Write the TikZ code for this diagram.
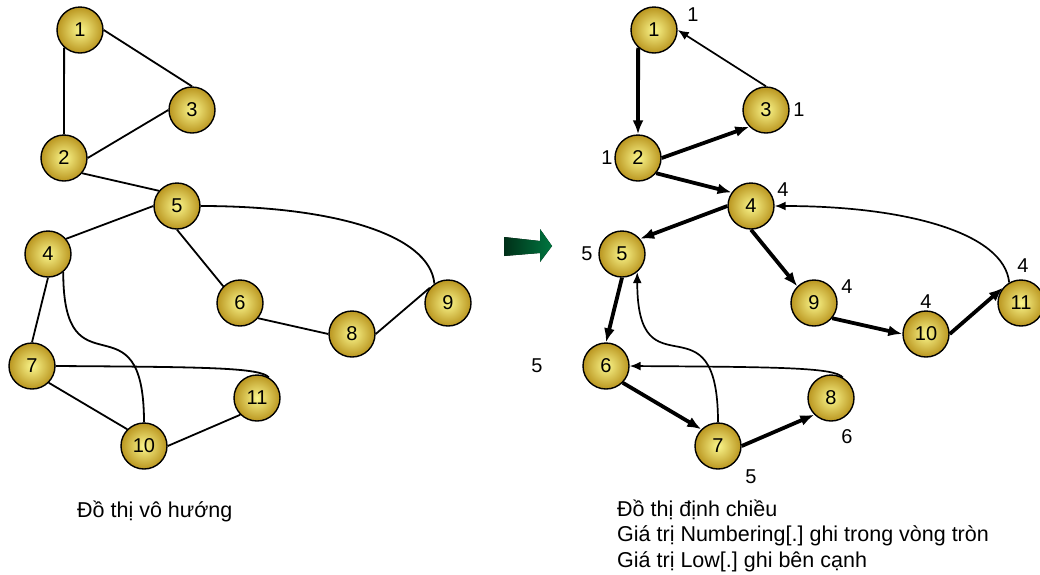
\documentclass[tikz,border=0pt]{standalone}
\usepackage{fontspec}
\setmainfont{Liberation Sans}
\usetikzlibrary{arrows.meta}
\frenchspacing

\definecolor{goldlight}{RGB}{250,246,140}
\definecolor{golddark}{RGB}{186,150,32}
\definecolor{arrowgreen}{RGB}{0,118,64}
\definecolor{arrowdark}{RGB}{0,48,24}

\begin{document}
\begin{tikzpicture}[x=1pt, y=1pt,
  every node/.style={font=\fontsize{20}{24}\selectfont},
  vertex/.style={circle, draw, line width=1.4pt, minimum size=46pt, inner sep=0pt, inner color=goldlight, outer color=golddark},
  low/.style={inner sep=0pt},
  caption/.style={inner sep=0pt, anchor=base west, align=left, font=\fontsize{21.5}{25.5}\selectfont},
  edge/.style={line width=1.8pt},
  tree/.style={line width=3.8pt, -{Latex[length=14pt,width=11pt]}},
  back/.style={line width=1.7pt, -{Latex[length=11pt,width=9pt]}}]
  \useasboundingbox (0,0) rectangle (1040,-574);

  % undirected graph
  \node[vertex] (a1) at (80,-30) {1};
  \node[vertex] (a3) at (192,-110) {3};
  \node[vertex] (a2) at (64,-158) {2};
  \node[vertex] (a5) at (177,-206) {5};
  \node[vertex] (a4) at (48,-254) {4};
  \node[vertex] (a6) at (240,-303) {6};
  \node[vertex] (a9) at (448,-303) {9};
  \node[vertex] (a8) at (352,-334) {8};
  \node[vertex] (a7) at (32,-366) {7};
  \node[vertex] (a11) at (257,-398) {11};
  \node[vertex] (a10) at (144,-446) {10};

  \draw[edge] (a1.228) -- (a2.north);
  \draw[edge] (a1.east) -- (a3.north);
  \draw[edge] (a2.east) -- (a3.west);
  \draw[edge] (a2.-40) -- (a5.140);
  \draw[edge] (a5.west) -- (a4.40);
  \draw[edge] (a5.south) -- (a6.135);
  \draw[edge] (a5.east) .. controls +(130,0) and +(-5,50) .. (a9.125);
  \draw[edge] (a4.south) -- (a7.north);
  \draw[edge] (a4.-50) .. controls +(0,-127) and +(0,132) .. (a10.north);
  \draw[edge] (a7.east) .. controls +(150,-1) and +(-8,10) .. (a11.60);
  \draw[edge] (a7.-45) -- (a10.135);
  \draw[edge] (a10.east) -- (a11.225);
  \draw[edge] (a6.-40) -- (a8.west);
  \draw[edge] (a8.east) -- (a9.140);

  \node[caption] (capL) at (77,-517) {Đồ thị vô hướng};

  % arrow between the two graphs
  \fill[left color=arrowdark, right color=arrowgreen] (504,-237) -- (540,-241) -- (540,-229)
    -- (552,-246) -- (540,-262) -- (540,-253) -- (504,-256) -- cycle;

  % directed graph
  \node[vertex] (b1) at (654,-30) {1};
  \node[vertex] (b3) at (766,-110) {3};
  \node[vertex] (b2) at (638,-158) {2};
  \node[vertex] (b4) at (751,-206) {4};
  \node[vertex] (b5) at (622,-254) {5};
  \node[vertex] (b9) at (814,-303) {9};
  \node[vertex] (b11) at (1021,-303) {11};
  \node[vertex] (b10) at (926,-334) {10};
  \node[vertex] (b6) at (606,-366) {6};
  \node[vertex] (b8) at (831,-398) {8};
  \node[vertex] (b7) at (718,-446) {7};

  \draw[tree] (b1.228) -- (b2.north);
  \draw[back] (b3.north) -- (b1.east);
  \draw[tree] (b2.east) -- (b3.225);
  \draw[tree] (b2.-40) -- (b4.145);
  \draw[tree] (b4.west) -- (b5.40);
  \draw[tree] (b4.south) -- (b9.135);
  \draw[back] (b11.120) .. controls +(-5,50) and +(130,0) .. (b4.east);
  \draw[tree] (b5.south) -- (b6.north);
  \draw[back] (b7.north) .. controls +(0,132) and +(0,-127) .. (b5.-50);
  \draw[tree] (b6.-45) -- (b7.135);
  \draw[tree] (b7.east) -- (b8.225);
  \draw[back] (b8.60) .. controls +(-8,10) and +(150,-1) .. (b6.east);
  \draw[tree] (b9.-40) -- (b10.west);
  \draw[tree] (b10.east) -- (b11.140);

  % Low values
  \node[low] (low1) at (693,-15) {1};
  \node[low] (low3) at (799,-110) {1};
  \node[low] (low2) at (607,-158) {1};
  \node[low] (low4) at (783,-190) {4};
  \node[low] (low5) at (587,-254) {5};
  \node[low] (low9) at (847,-287) {4};
  \node[low] (low10) at (926,-302) {4};
  \node[low] (low11) at (1023,-266) {4};
  \node[low] (low6) at (537,-366) {5};
  \node[low] (low8) at (847,-437) {6};
  \node[low] (low7) at (751,-477) {5};

  \node[caption] (capR) at (617,-567) {Đồ thị định chiều\\Giá trị Numbering[.] ghi trong vòng tròn\\Giá trị Low[.] ghi bên cạnh};
\end{tikzpicture}
\end{document}
